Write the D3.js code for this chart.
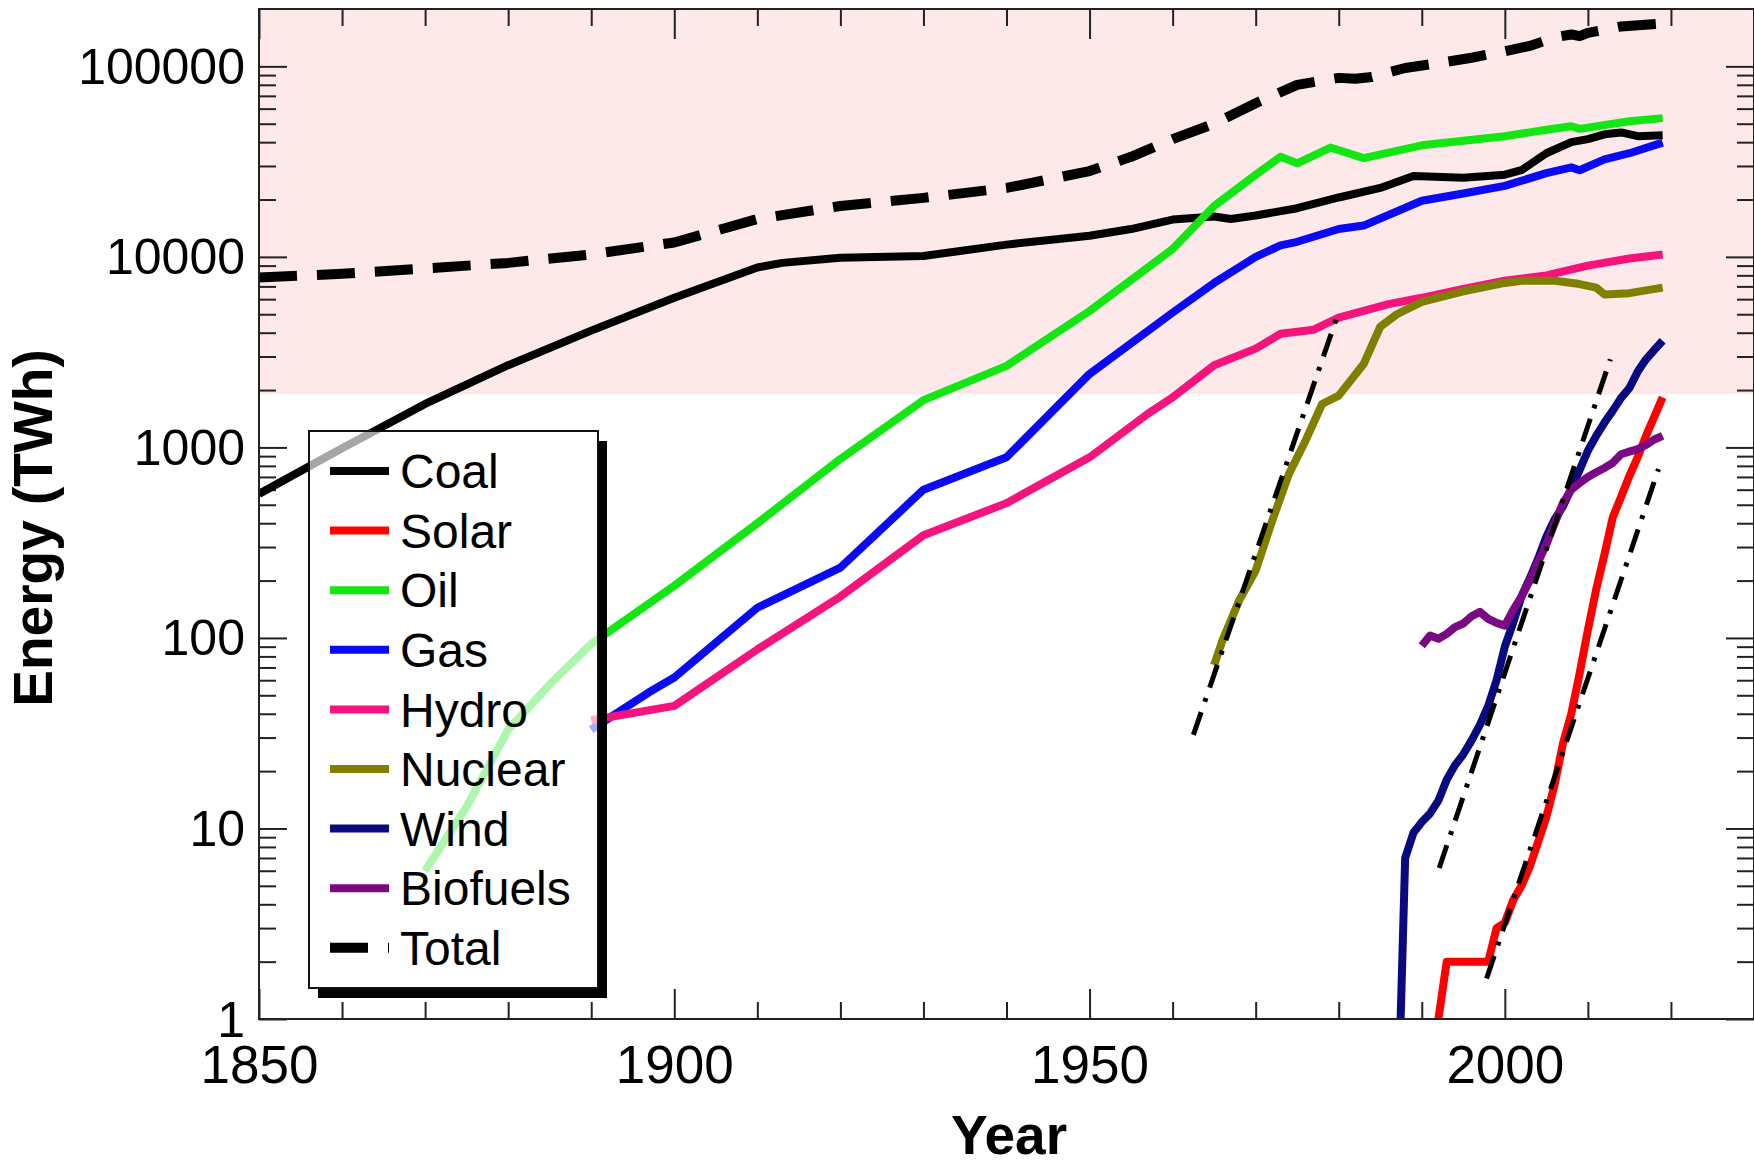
<!DOCTYPE html>
<html lang="en">
<head>
<meta charset="utf-8">
<title>Energy by source</title>
<style>
  body { margin: 0; background: #fff; }
  svg { display: block; font-family: "Liberation Sans", Arial, Helvetica, sans-serif; }
</style>
<script src="https://d3js.org/d3.v7.min.js"></script>
</head>
<body>
<script>

// series, [year, TWh]
const coal = [[1850,570],[1860,990],[1870,1690],[1880,2700],[1890,4100],[1900,6100],[1910,8800],[1913,9300],[1920,9900],[1930,10100],[1940,11600],[1950,12900],[1955,14000],[1960,15700],[1965,16300],[1967,15800],[1970,16500],[1975,18000],[1980,20500],[1985,23000],[1989,26600],[1995,26000],[2000,27000],[2002,28500],[2005,35000],[2008,40000],[2010,41500],[2012,44000],[2014,45000],[2016,43000],[2019,43500]]
const solar = [[1991,0.6],[1992,1],[1993,2],[1994,2],[1995,2],[1996,2],[1997,2],[1998,2],[1999,3],[2000,3.2],[2001,4.2],[2002,5],[2003,6.3],[2004,8.5],[2005,11.5],[2006,17],[2007,28],[2008,40],[2009,65],[2010,110],[2011,180],[2012,275],[2013,430],[2014,550],[2015,710],[2016,890],[2017,1150],[2018,1450],[2019,1830]]
const oil = [[1870,6],[1875,13],[1880,33],[1885,57],[1890,93],[1900,188],[1910,400],[1920,870],[1930,1770],[1940,2680],[1950,5200],[1960,11000],[1965,18500],[1970,27000],[1973,33500],[1975,31000],[1979,37500],[1983,33000],[1990,38500],[2000,43000],[2005,46500],[2008,48500],[2009,47000],[2015,51500],[2019,53500]]
const gas = [[1890,33],[1897,52],[1900,62],[1910,144],[1920,234],[1930,600],[1940,888],[1950,2430],[1960,5100],[1965,7300],[1970,10000],[1973,11500],[1975,12000],[1980,14000],[1983,14600],[1990,19700],[1995,21500],[2000,23600],[2005,27500],[2008,29500],[2009,28500],[2012,32500],[2015,35000],[2019,39800]]
const hydro = [[1890,37],[1900,44],[1910,87],[1920,165],[1930,346],[1940,510],[1950,887],[1957,1500],[1960,1830],[1965,2700],[1970,3300],[1973,3950],[1977,4150],[1980,4800],[1986,5650],[1990,6100],[1995,6800],[2000,7500],[2005,8000],[2010,9000],[2015,9800],[2019,10300]]
const nuclear = [[1965,72],[1966,97],[1968,157],[1970,226],[1972,413],[1974,725],[1976,1085],[1978,1690],[1980,1870],[1983,2740],[1985,4300],[1987,5000],[1990,5800],[1995,6600],[2000,7300],[2002,7500],[2006,7500],[2009,7200],[2011,6900],[2012,6350],[2015,6450],[2019,6900]]
const wind = [[1987,0.2],[1988,7],[1989,9.5],[1990,10.8],[1991,12],[1992,14],[1993,18],[1994,21.5],[1995,24.5],[1996,29],[1997,35],[1998,44],[1999,60],[2000,90],[2001,120],[2002,165],[2003,205],[2004,260],[2005,340],[2006,420],[2007,490],[2008,610],[2009,760],[2010,960],[2011,1150],[2012,1350],[2013,1560],[2014,1820],[2015,2050],[2016,2500],[2017,2900],[2018,3250],[2019,3630]]
const biofuels = [[1990,91],[1991,103],[1992,99],[1993,105],[1994,114],[1995,119],[1996,130],[1997,137],[1998,126],[1999,120],[2000,116],[2001,140],[2002,165],[2003,200],[2004,250],[2005,310],[2006,400],[2007,510],[2008,600],[2009,650],[2010,700],[2011,740],[2012,780],[2013,830],[2014,920],[2015,950],[2016,980],[2017,1030],[2018,1100],[2019,1150]]
const total = [[1850,7800],[1860,8150],[1870,8700],[1880,9300],[1890,10300],[1900,11900],[1910,15800],[1920,18500],[1930,20400],[1940,23000],[1950,28200],[1955,33500],[1960,41500],[1965,50000],[1970,64000],[1972,70000],[1975,80000],[1980,87000],[1982,86000],[1984,88000],[1988,98000],[1992,104000],[1996,111000],[2000,120000],[2003,128000],[2006,142000],[2008,147000],[2009,144000],[2010,150000],[2014,162000],[2019,168000]]

// exponential fits (dash-dot)
const nuclearFit = [[1962.5,31],[1980.1,5300]]
const windFit = [[1992.1,6.2],[2012.7,2900]]
const solarFit = [[1997.8,1.63],[2018.5,770]]

const sources = ["Coal","Solar","Oil","Gas","Hydro","Nuclear","Wind","Biofuels","Total"]
const seriesList = [coal, solar, oil, gas, hydro, nuclear, wind, biofuels, total]
const fits = [nuclearFit, windFit, solarFit]

const xTickLabels = [1850, 1900, 1950, 2000]
const xMinorTicks = [1860,1870,1880,1890,1910,1920,1930,1940,1960,1970,1980,1990,2010,2020]
const yTickLabels = [1, 10, 100, 1000, 10000, 100000]
const shadeFrom = 1900

const colors = {
    Coal: "#000000", Solar: "#ff0000", Oil: "#14e614", Gas: "#0a0af5",
    Hydro: "#f5147c", Nuclear: "#7f7f00", Wind: "#0a0a80", Biofuels: "#7a0a82", Total: "#000000"
}

let width = 1754
let height = 1168
let pLeft = 259, pRight = 1754, pTop = 9, pBottom = 1019

let svg = d3.select("body").append("svg")
    .attr("width", width)
    .attr("height", height)

let x = d3.scaleLinear().domain([1850, 2030]).range([pLeft, pRight])
let y = d3.scaleLog().domain([1, 2e5]).range([pBottom, pTop])

svg.append("defs").append("clipPath").attr("id", "plot")
    .append("rect")
    .attr("x", pLeft).attr("y", pTop)
    .attr("width", pRight - pLeft).attr("height", pBottom - pTop)

// pink band
svg.append("rect")
    .attr("x", pLeft)
    .attr("y", y(2e5))
    .attr("width", pRight - pLeft)
    .attr("height", y(shadeFrom) - y(2e5))
    .attr("fill", "#fde9e9")

// ticks
let yMinor = []
yTickLabels.slice(0, -1).forEach(d => { for (let k = 2; k <= 9; k++) yMinor.push(d * k) })

let styleAxis = (g) => {
    g.select(".domain").remove()
    g.selectAll(".tick line").attr("stroke", "#222").attr("stroke-width", 2)
    g.attr("font-family", null).attr("font-size", null)
}

svg.append("g").attr("transform", `translate(${pLeft},0)`)
    .call(d3.axisLeft(y).tickValues(yTickLabels).tickSize(-28).tickPadding(14).tickFormat(d3.format("d")))
    .call(styleAxis)
    .selectAll("text").attr("font-size", 50).attr("fill", "#000").attr("dy", "0.34em")
svg.append("g").attr("transform", `translate(${pLeft},0)`)
    .call(d3.axisLeft(y).tickValues(yMinor).tickSize(-17).tickFormat(""))
    .call(styleAxis)
svg.append("g").attr("transform", `translate(${pRight},0)`)
    .call(d3.axisRight(y).tickValues(yTickLabels).tickSize(-28).tickFormat(""))
    .call(styleAxis)
svg.append("g").attr("transform", `translate(${pRight},0)`)
    .call(d3.axisRight(y).tickValues(yMinor).tickSize(-17).tickFormat(""))
    .call(styleAxis)

svg.append("g").attr("transform", `translate(0,${pBottom})`)
    .call(d3.axisBottom(x).tickValues(xTickLabels).tickSize(-30).tickPadding(26).tickFormat(d3.format("d")))
    .call(styleAxis)
    .selectAll("text").attr("font-size", 53).attr("fill", "#000")
svg.append("g").attr("transform", `translate(0,${pBottom})`)
    .call(d3.axisBottom(x).tickValues(xMinorTicks).tickSize(-17).tickFormat(""))
    .call(styleAxis)
svg.append("g").attr("transform", `translate(0,${pTop})`)
    .call(d3.axisTop(x).tickValues(xTickLabels).tickSize(-30).tickFormat(""))
    .call(styleAxis)
svg.append("g").attr("transform", `translate(0,${pTop})`)
    .call(d3.axisTop(x).tickValues(xMinorTicks).tickSize(-17).tickFormat(""))
    .call(styleAxis)

// lines
let line = d3.line().x(d => x(d[0])).y(d => y(d[1]))
let plot = svg.append("g").attr("clip-path", "url(#plot)")

seriesList.forEach((s, i) => {
    let name = sources[i]
    plot.append("path")
        .datum(s)
        .attr("d", line)
        .attr("fill", "none")
        .attr("stroke", colors[name])
        .attr("stroke-width", name === "Total" ? 10 : 8)
        .attr("stroke-linejoin", "round")
        .attr("stroke-dasharray", name === "Total" ? "38 20" : null)
})

fits.forEach(f => {
    plot.append("path")
        .datum(f)
        .attr("d", line)
        .attr("fill", "none")
        .attr("stroke", "#000")
        .attr("stroke-width", 5)
        .attr("stroke-dasharray", "24 11 4 11")
})

// frame
svg.append("rect")
    .attr("x", pLeft).attr("y", pTop)
    .attr("width", pRight - pLeft).attr("height", pBottom - pTop)
    .attr("fill", "none")
    .attr("stroke", "#222")
    .attr("stroke-width", 2)

// legend
let lx = 309, ly = 431, lw = 289, lh = 557
let legend = svg.append("g").attr("transform", `translate(${lx},${ly})`)

legend.append("path")
    .attr("d", `M${lw},10 H${lw + 9} V${lh + 10} H9 V${lh} H${lw} Z`)
    .attr("fill", "#000")
legend.append("rect")
    .attr("width", lw).attr("height", lh)
    .attr("fill", "#fff").attr("fill-opacity", 0.65)
    .attr("stroke", "#111").attr("stroke-width", 2)

sources.forEach((name, i) => {
    let row = 40 + i * 59.6
    legend.append("line")
        .attr("x1", 21).attr("x2", 80)
        .attr("y1", row).attr("y2", row)
        .attr("stroke", colors[name])
        .attr("stroke-width", name === "Total" ? 10 : 8)
        .attr("stroke-dasharray", name === "Total" ? "38 20" : null)
    legend.append("text")
        .attr("x", 91).attr("y", row)
        .attr("dy", "0.36em")
        .attr("font-size", 48)
        .text(name)
})

// axis titles
svg.append("text")
    .attr("x", 1009).attr("y", 1154)
    .attr("text-anchor", "middle")
    .attr("font-size", 55)
    .attr("font-weight", "bold")
    .text("Year")

svg.append("text")
    .attr("transform", "translate(52,528) rotate(-90)")
    .attr("text-anchor", "middle")
    .attr("font-size", 55)
    .attr("font-weight", "bold")
    .text("Energy (TWh)")

</script>
</body>
</html>
